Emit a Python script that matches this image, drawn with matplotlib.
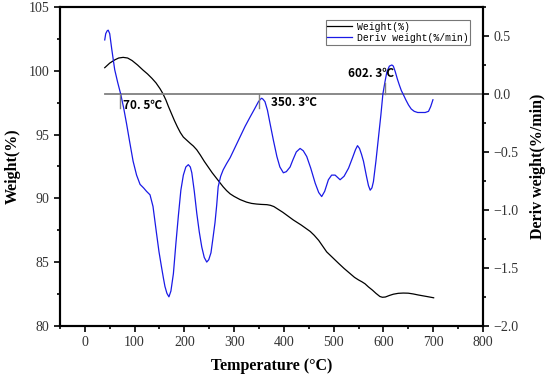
import numpy as np
import matplotlib
matplotlib.use('Agg')
import matplotlib.pyplot as plt
from matplotlib.ticker import MultipleLocator, FuncFormatter

# weight curve (TG)
temp_w = [40, 50, 60, 68, 77, 86, 95, 106, 117, 126, 135, 143, 151, 157, 163, 168, 174,
          180, 186, 192, 198, 205, 212, 218, 225, 232, 240, 248, 256, 264, 272, 278, 285,
          292, 300, 312, 325, 335, 345, 355, 366, 373, 380, 386, 392, 398, 405, 412, 419,
          427, 435, 444, 453, 461, 470, 478, 486, 498, 510, 521, 533, 542, 550, 557, 563,
          570, 578, 585, 593, 598, 604, 612, 620, 630, 640, 650, 660, 670, 680, 690, 701]
weight = [100.24, 100.6, 100.85, 101.0, 101.05, 101.0, 100.8, 100.45, 100.05, 99.75, 99.4,
          99.05, 98.6, 98.2, 97.7, 97.2, 96.65, 96.1, 95.6, 95.15, 94.8, 94.55, 94.3, 94.1,
          93.8, 93.4, 92.9, 92.45, 92.0, 91.6, 91.2, 90.9, 90.6, 90.35, 90.15, 89.9, 89.7,
          89.6, 89.55, 89.52, 89.5, 89.45, 89.35, 89.2, 89.05, 88.9, 88.7, 88.5, 88.3, 88.1,
          87.9, 87.65, 87.4, 87.1, 86.7, 86.25, 85.8, 85.35, 84.9, 84.5, 84.1, 83.8, 83.6,
          83.45, 83.3, 83.05, 82.8, 82.55, 82.3, 82.24, 82.26, 82.38, 82.48, 82.55, 82.57,
          82.56, 82.5, 82.42, 82.35, 82.28, 82.2]

# DTG curve
temp_d = [40, 42, 45, 47, 50, 54, 60, 66, 72, 78, 84, 90, 97, 104, 111, 118, 124, 131,
          137, 144, 149, 154, 158, 161, 165, 169, 173, 178, 183, 188, 193, 198, 203, 208,
          212, 215, 220, 225, 230, 235, 240, 245, 249, 253.5, 257, 261.6, 265, 268, 273,
          278, 285, 292, 302, 312, 322, 332, 341, 349, 353, 355.5, 358, 362, 367, 372, 379,
          386, 392, 399, 405, 412.5, 418, 425, 432.6, 439, 446, 454, 463, 470, 476, 482,
          489.5, 496, 503, 508, 513, 521, 530, 538, 544, 548, 552, 556, 560, 566, 570,
          573.5, 577, 580, 585, 590, 595, 599, 603, 607, 612, 617, 620, 624, 628, 632,
          636, 640.5, 645, 650.5, 656, 662, 669, 677, 684, 690.7, 695, 699.6]
deriv = [0.466, 0.52, 0.545, 0.55, 0.52, 0.39, 0.21, 0.10, 0.0, -0.12, -0.26, -0.41, -0.58,
         -0.70, -0.78, -0.81, -0.84, -0.87, -0.97, -1.20, -1.36, -1.49, -1.59, -1.66, -1.72,
         -1.75, -1.70, -1.55, -1.29, -1.05, -0.83, -0.70, -0.63, -0.61, -0.63, -0.68, -0.84,
         -1.03, -1.19, -1.32, -1.41, -1.45, -1.43, -1.37, -1.26, -1.11, -0.96, -0.80, -0.71,
         -0.655, -0.60, -0.55, -0.46, -0.37, -0.28, -0.20, -0.13, -0.066, -0.045, -0.037,
         -0.045, -0.066, -0.14, -0.25, -0.40, -0.54, -0.63, -0.68, -0.67, -0.63, -0.57,
         -0.50, -0.47, -0.49, -0.54, -0.64, -0.77, -0.85, -0.885, -0.84, -0.74, -0.70,
         -0.70, -0.72, -0.74, -0.71, -0.64, -0.55, -0.48, -0.446, -0.47, -0.52, -0.58,
         -0.71, -0.79, -0.83, -0.81, -0.756, -0.58, -0.38, -0.18, 0.0, 0.10, 0.19, 0.24,
         0.25, 0.24, 0.19, 0.13, 0.078, 0.03, -0.009, -0.05, -0.095, -0.13, -0.15, -0.16,
         -0.16, -0.16, -0.15, -0.11, -0.05]

# marked temperatures
peak_t = [70.5, 350.3, 602.3]
peak_labels = ['70. 5℃', '350. 3℃', '602. 3℃']

serif = ['Liberation Serif', 'DejaVu Serif']
plt.rcParams['font.family'] = serif

fig = plt.figure(figsize=(5.5, 3.78), dpi=100)
ax = fig.add_axes([0.109, 0.138, 0.769, 0.8435])
ax2 = ax.twinx()

l1, = ax.plot(temp_w, weight, color='black', lw=0.9, label='Weight(%)')
l2, = ax2.plot(temp_d, deriv, color='#1a1ae6', lw=0.9, label='Deriv weight(%/min)')

# zero line and peak marks
ax2.plot([40, 800], [0, 0], color='#808080', lw=1.3, zorder=1)
ax2.plot([peak_t[0], peak_t[0]], [0, -0.12], color='#808080', lw=1.0)
ax2.plot([peak_t[1], peak_t[1]], [0, -0.12], color='#808080', lw=1.0)
ax2.plot([peak_t[2], peak_t[2]], [0, 0.095], color='#808080', lw=1.0)

ann_font = ['Noto Sans CJK SC', 'DejaVu Sans']
ax2.text(peak_t[0] + 6, -0.10, peak_labels[0], fontsize=8.5, fontweight='bold',
         family=ann_font, va='center', ha='left')
ax2.text(peak_t[1] + 23, -0.075, peak_labels[1], fontsize=8.5, fontweight='bold',
         family=ann_font, va='center', ha='left')
ax2.text(peak_t[2] - 28, 0.18, peak_labels[2], fontsize=8.5, fontweight='bold',
         family=ann_font, va='center', ha='center')

ax.set_xlim(-50, 800)
ax.set_ylim(80, 105)
ax2.set_ylim(-2.0, 0.75)

ax.xaxis.set_major_locator(MultipleLocator(100))
ax.xaxis.set_minor_locator(MultipleLocator(50))
ax.yaxis.set_major_locator(MultipleLocator(5))
ax.yaxis.set_minor_locator(MultipleLocator(2.5))
ax2.yaxis.set_major_locator(MultipleLocator(0.5))
ax2.yaxis.set_minor_locator(MultipleLocator(0.25))
ax2.yaxis.set_major_formatter(FuncFormatter(lambda v, p: f'{v:.1f}'.replace('-', '\u2212')))

ax.tick_params(axis='both', which='major', direction='out', length=4, width=1.2,
               labelsize=10, colors='black')
ax.tick_params(axis='both', which='minor', direction='out', length=2.5, width=1.2)
ax.tick_params(axis='x', labelcolor='#333333')
ax.tick_params(axis='y', labelcolor='#333333')
ax2.tick_params(axis='y', which='major', direction='out', length=4, width=1.2,
                labelsize=10, labelcolor='#333333')
ax2.tick_params(axis='y', which='minor', direction='out', length=2.5, width=1.2)
# top ticks pointing inward
ax2.tick_params(axis='x', which='both', top=True, bottom=False, labeltop=False,
                labelbottom=False, direction='in', width=1.2)
ax2.tick_params(axis='x', which='major', length=4)
ax2.tick_params(axis='x', which='minor', length=2.5)

for a in (ax, ax2):
    for s in a.spines.values():
        s.set_linewidth(1.5)

ax.set_xlabel('Temperature (°C)', fontsize=11.5, fontweight='bold', labelpad=6)
ax.set_ylabel('Weight(%)', fontsize=11.5, fontweight='bold', labelpad=6)
ax2.set_ylabel('Deriv weight(%/min)', fontsize=11.5, fontweight='bold', labelpad=8)

leg = ax2.legend(handles=[l1, l2], loc='upper right', bbox_to_anchor=(0.97, 0.96),
                 prop={'family': 'Liberation Mono', 'size': 7}, frameon=True,
                 fancybox=False, edgecolor='#555555', handlelength=2.5,
                 borderpad=0.2, labelspacing=0.1, handletextpad=0.5, borderaxespad=0)
leg.get_frame().set_linewidth(0.8)

fig.savefig('out.png', dpi=100)
